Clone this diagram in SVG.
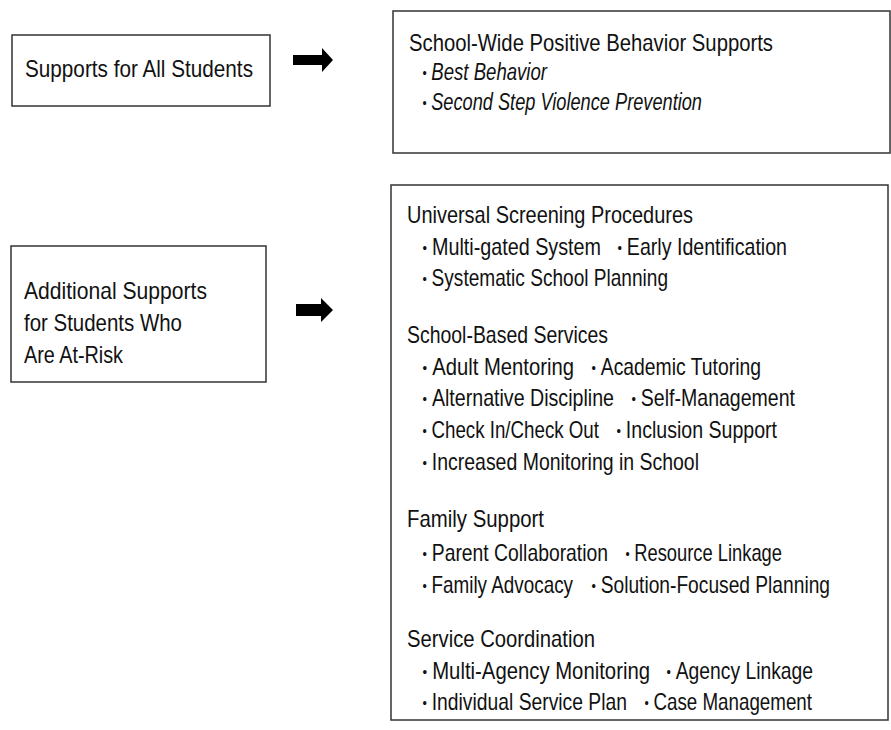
<svg xmlns="http://www.w3.org/2000/svg" width="891" height="730" viewBox="0 0 891 730">
<style>
.box{fill:#fff;stroke:#333;stroke-width:1.5}
.t{font-family:"Liberation Sans Narrow","Liberation Sans",Arial,sans-serif;font-size:20px;fill:#111;transform-box:fill-box;transform-origin:0 81%;transform:scaleY(1.16)}
.it{font-style:italic}
.bs{font-size:13px;font-style:normal}
.arrow{fill:#000}
</style>
<rect width="891" height="730" fill="#fff"/>
<g id="all-students">
<rect class="box" x="12" y="35" width="258" height="71"/>
<text class="t" x="25" y="77" textLength="228" lengthAdjust="spacingAndGlyphs">Supports for All Students</text>
</g>
<g id="at-risk">
<rect class="box" x="11" y="246" width="255" height="136"/>
<text class="t" x="24" y="299" textLength="183" lengthAdjust="spacingAndGlyphs">Additional Supports</text>
<text class="t" x="24" y="331" textLength="158" lengthAdjust="spacingAndGlyphs">for Students Who</text>
<text class="t" x="24" y="363" textLength="99" lengthAdjust="spacingAndGlyphs">Are At-Risk</text>
</g>
<g id="swpbs">
<rect class="box" x="393" y="11" width="497" height="142"/>
<text class="t" x="409" y="51" textLength="364" lengthAdjust="spacingAndGlyphs">School-Wide Positive Behavior Supports</text>
<text class="t it" x="422.5" y="80" textLength="124.5" lengthAdjust="spacingAndGlyphs"><tspan class="bs" dy="-2">•</tspan><tspan dy="2" dx="5">Best Behavior</tspan></text>
<text class="t it" x="422.5" y="110" textLength="279.5" lengthAdjust="spacingAndGlyphs"><tspan class="bs" dy="-2">•</tspan><tspan dy="2" dx="5">Second Step Violence Prevention</tspan></text>
</g>
<g id="additional-services">
<rect class="box" x="391" y="185" width="497" height="535"/>
<text class="t" x="407" y="223" textLength="286" lengthAdjust="spacingAndGlyphs">Universal Screening Procedures</text>
<text class="t" x="422.5" y="255" textLength="178.5" lengthAdjust="spacingAndGlyphs"><tspan class="bs" dy="-2">•</tspan><tspan dy="2" dx="5">Multi-gated System</tspan></text>
<text class="t" x="617.5" y="255" textLength="169.5" lengthAdjust="spacingAndGlyphs"><tspan class="bs" dy="-2">•</tspan><tspan dy="2" dx="5">Early Identification</tspan></text>
<text class="t" x="422.5" y="286" textLength="245.5" lengthAdjust="spacingAndGlyphs"><tspan class="bs" dy="-2">•</tspan><tspan dy="2" dx="5">Systematic School Planning</tspan></text>

<text class="t" x="407" y="343" textLength="201" lengthAdjust="spacingAndGlyphs">School-Based Services</text>
<text class="t" x="422.5" y="375" textLength="151.5" lengthAdjust="spacingAndGlyphs"><tspan class="bs" dy="-2">•</tspan><tspan dy="2" dx="5">Adult Mentoring</tspan></text>
<text class="t" x="591.5" y="375" textLength="169.5" lengthAdjust="spacingAndGlyphs"><tspan class="bs" dy="-2">•</tspan><tspan dy="2" dx="5">Academic Tutoring</tspan></text>
<text class="t" x="422.5" y="406" textLength="191.5" lengthAdjust="spacingAndGlyphs"><tspan class="bs" dy="-2">•</tspan><tspan dy="2" dx="5">Alternative Discipline</tspan></text>
<text class="t" x="631.5" y="406" textLength="163.5" lengthAdjust="spacingAndGlyphs"><tspan class="bs" dy="-2">•</tspan><tspan dy="2" dx="5">Self-Management</tspan></text>
<text class="t" x="422.5" y="438" textLength="176.5" lengthAdjust="spacingAndGlyphs"><tspan class="bs" dy="-2">•</tspan><tspan dy="2" dx="5">Check In/Check Out</tspan></text>
<text class="t" x="616.5" y="438" textLength="160.5" lengthAdjust="spacingAndGlyphs"><tspan class="bs" dy="-2">•</tspan><tspan dy="2" dx="5">Inclusion Support</tspan></text>
<text class="t" x="422.5" y="470" textLength="276.5" lengthAdjust="spacingAndGlyphs"><tspan class="bs" dy="-2">•</tspan><tspan dy="2" dx="5">Increased Monitoring in School</tspan></text>

<text class="t" x="407" y="527" textLength="137" lengthAdjust="spacingAndGlyphs">Family Support</text>
<text class="t" x="422.5" y="561" textLength="185.5" lengthAdjust="spacingAndGlyphs"><tspan class="bs" dy="-2">•</tspan><tspan dy="2" dx="5">Parent Collaboration</tspan></text>
<text class="t" x="625.5" y="561" textLength="156.5" lengthAdjust="spacingAndGlyphs"><tspan class="bs" dy="-2">•</tspan><tspan dy="2" dx="5">Resource Linkage</tspan></text>
<text class="t" x="422.5" y="593" textLength="150.5" lengthAdjust="spacingAndGlyphs"><tspan class="bs" dy="-2">•</tspan><tspan dy="2" dx="5">Family Advocacy</tspan></text>
<text class="t" x="591.5" y="593" textLength="238.5" lengthAdjust="spacingAndGlyphs"><tspan class="bs" dy="-2">•</tspan><tspan dy="2" dx="5">Solution-Focused Planning</tspan></text>

<text class="t" x="407" y="647" textLength="188" lengthAdjust="spacingAndGlyphs">Service Coordination</text>
<text class="t" x="422.5" y="679" textLength="227.5" lengthAdjust="spacingAndGlyphs"><tspan class="bs" dy="-2">•</tspan><tspan dy="2" dx="5">Multi-Agency Monitoring</tspan></text>
<text class="t" x="666.5" y="679" textLength="146.5" lengthAdjust="spacingAndGlyphs"><tspan class="bs" dy="-2">•</tspan><tspan dy="2" dx="5">Agency Linkage</tspan></text>
<text class="t" x="422.5" y="710" textLength="204.5" lengthAdjust="spacingAndGlyphs"><tspan class="bs" dy="-2">•</tspan><tspan dy="2" dx="5">Individual Service Plan</tspan></text>
<text class="t" x="644.5" y="710" textLength="167.5" lengthAdjust="spacingAndGlyphs"><tspan class="bs" dy="-2">•</tspan><tspan dy="2" dx="5">Case Management</tspan></text>
</g>
<g id="connectors">
<path class="arrow" d="M293,55 H322 V48 L333,60 L322,72 V65 H293 Z"/>
<path class="arrow" d="M296,304 H321 V298 L333,310 L321,322 V316 H296 Z"/>
</g>
</svg>
